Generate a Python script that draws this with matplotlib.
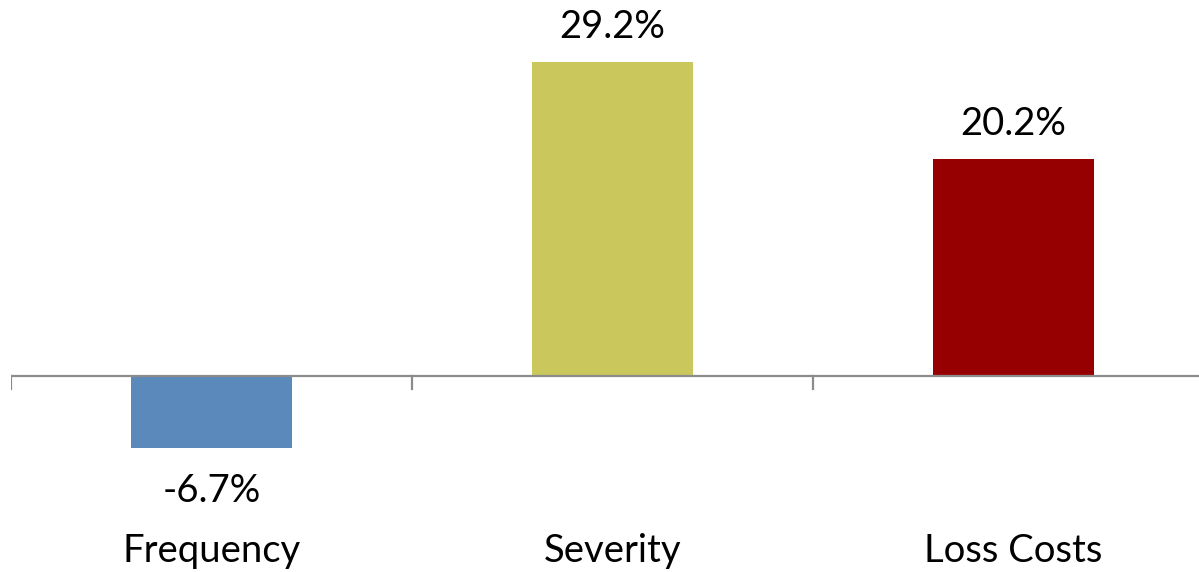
import matplotlib
matplotlib.use('Agg')
from matplotlib import pyplot as plt

categories = ['Frequency', 'Severity', 'Loss Costs']
values = [-6.7, 29.2, 20.2]
labels = ['-6.7%', '29.2%', '20.2%']
colors = ['#5B89BB', '#CAC85C', '#960000']

plt.rcParams['font.family'] = ['Lato', 'DejaVu Sans']

fig = plt.figure(figsize=(11.99, 5.72), dpi=100)
# zero line sits 376 px from the top, about 10.75 px per percent
ax = fig.add_axes([11 / 1199, 0, 1203 / 1199, 1])
ax.set_ylim(-(572 - 376) / 10.75, 376 / 10.75)
ax.set_xlim(-0.5, 2.5)

x = list(range(len(categories)))
ax.bar(x, values, width=0.4, color=colors, zorder=2)

for xi, v, lab in zip(x, values, labels):
    off = 35 if v >= 0 else -43
    ax.annotate(lab, (xi, v), xytext=(0, off), textcoords='offset pixels',
                ha='center', va='center', fontsize=27.5, color='black')
    ax.annotate(categories[xi], (xi, 0), xytext=(0, -175), textcoords='offset pixels',
                ha='center', va='center', fontsize=27.5, color='black')

for s in ['top', 'right', 'left', 'bottom']:
    ax.spines[s].set_visible(False)
ax.axhline(0, color='#8C8C8C', lw=1.6, zorder=3)
for b in [-0.5, 0.5, 1.5, 2.5]:
    ax.plot([b, b], [0, -13 / 10.75], color='#8C8C8C', lw=1.6, zorder=3)
ax.set_xticks([])
ax.set_yticks([])

fig.savefig('out.png', dpi=100)
